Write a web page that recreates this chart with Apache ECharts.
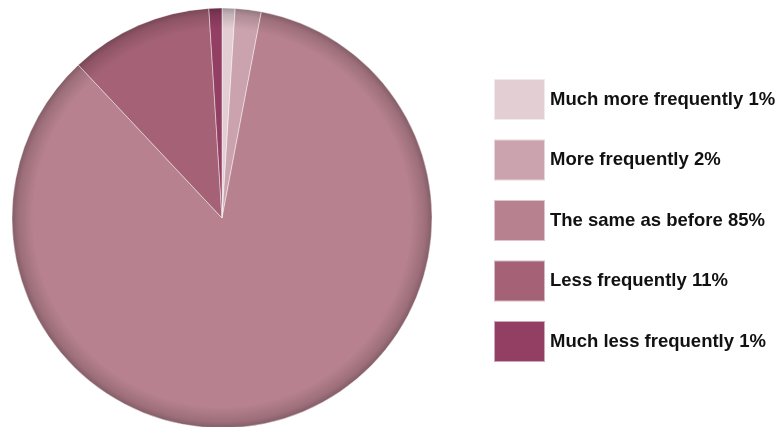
<!DOCTYPE html>
<html>
<head>
<meta charset="utf-8">
<script src="https://cdn.jsdelivr.net/npm/echarts@6/dist/echarts.min.js"></script>
<style>
  html, body { margin: 0; padding: 0; background: #fff; }
  #chart { width: 781px; height: 427px; }
</style>
</head>
<body>
<div id="chart"></div>
<script>
// Survey answers and their shares (percent)
const categories = [
  'Much more frequently',
  'More frequently',
  'The same as before',
  'Less frequently',
  'Much less frequently'
];
const shares = [1, 2, 85, 11, 1];
const colors = ['#e3ced4', '#cba3ae', '#b7818f', '#a56276', '#923f63'];

// Pie geometry (pixels)
const cx = 222, cy = 218, radius = 210;

// Darken a hex colour by a factor for the rim shading
function shade(hex, f) {
  const n = parseInt(hex.slice(1), 16);
  const r = Math.round(((n >> 16) & 255) * f);
  const g = Math.round(((n >> 8) & 255) * f);
  const b = Math.round((n & 255) * f);
  return 'rgb(' + r + ',' + g + ',' + b + ')';
}

function rimGradient(hex) {
  return {
    type: 'radial', x: cx, y: cy, r: radius, global: true,
    colorStops: [
      { offset: 0, color: hex },
      { offset: 0.9, color: hex },
      { offset: 0.97, color: shade(hex, 0.86) },
      { offset: 1, color: shade(hex, 0.72) }
    ]
  };
}

const names = categories.map((c, i) => c + ' ' + shares[i] + '%');

const chart = echarts.init(document.getElementById('chart'), null, { renderer: 'canvas' });
chart.setOption({
  animation: false,
  legend: {
    orient: 'vertical',
    left: 493,
    top: 78,
    padding: 0,
    itemWidth: 51,
    itemHeight: 41,
    itemGap: 17.5,
    icon: 'rect',
    selectedMode: false,
    textStyle: {
      fontFamily: 'Liberation Sans, Arial, Helvetica, sans-serif',
      fontWeight: 'bold',
      fontSize: 18.5,
      color: '#111'
    },
    data: names.map((n, i) => ({ name: n, itemStyle: { color: colors[i] } }))
  },
  series: [{
    type: 'pie',
    center: [cx, cy],
    radius: [0, radius],
    startAngle: 90,
    clockwise: true,
    silent: true,
    label: { show: false },
    labelLine: { show: false },
    itemStyle: {
      borderColor: 'rgba(255,255,255,0.55)',
      borderWidth: 0.8
    },
    data: names.map((n, i) => ({
      name: n,
      value: shares[i],
      itemStyle: { color: rimGradient(colors[i]) }
    }))
  }]
});
</script>
</body>
</html>
